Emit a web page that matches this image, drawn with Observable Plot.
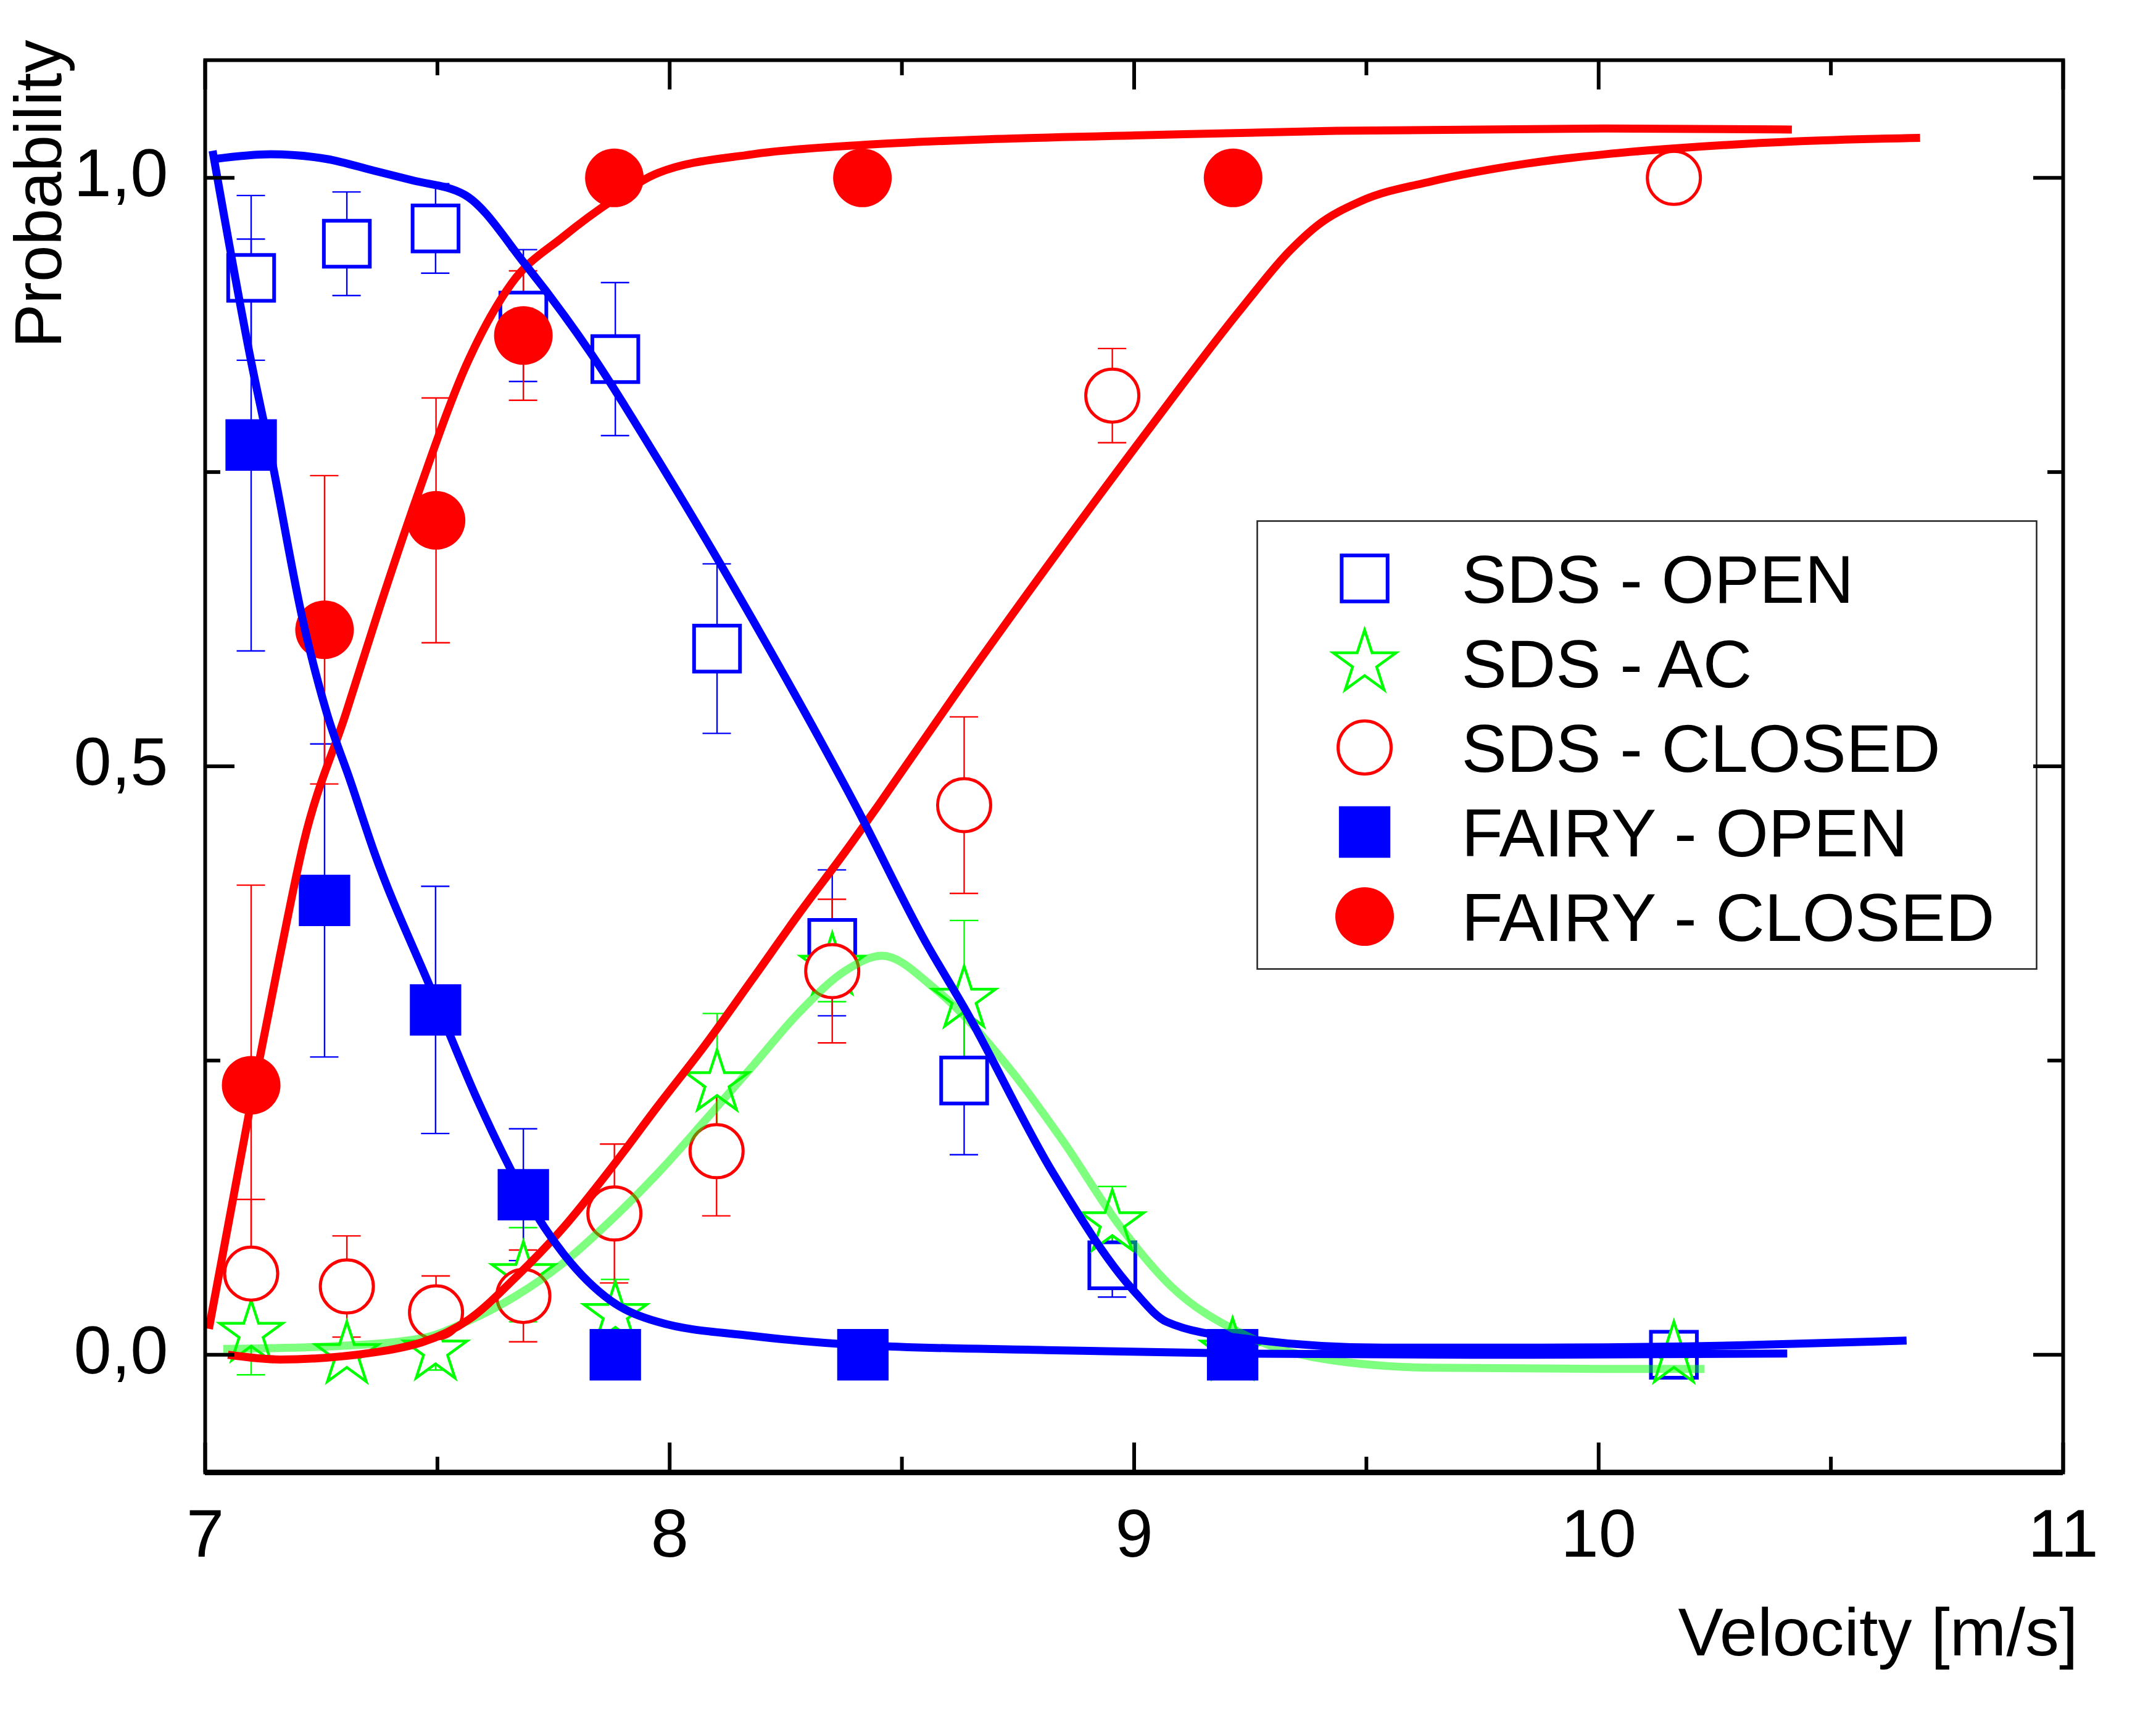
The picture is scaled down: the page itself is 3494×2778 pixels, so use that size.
<!DOCTYPE html>
<html>
<head>
<meta charset="utf-8">
<script src="https://cdn.jsdelivr.net/npm/d3@7"></script>
<script src="https://cdn.jsdelivr.net/npm/@observablehq/plot@0.6"></script>
<style>
  html, body { margin: 0; padding: 0; background: #fff; overflow: hidden; }
  svg { display: block; }
</style>
</head>
<body>
<div id="chart"></div>
<script>
// ---------- tick values and labels ----------
const xTicksMajor = [7, 8, 9, 10, 11];
const xTickLabels = ["7", "8", "9", "10", "11"];
const xTicksMinor = [7.5, 8.5, 9.5, 10.5];
const yTicksMajor = [0, 0.5, 1];
const yTickLabels = ["0,0", "0,5", "1,0"];
const yTicksMinor = [0.25, 0.75];

// ---------- measured points: [velocity, probability, error] ----------
const sdsOpen = [
  [7.099, 0.915, 0.070], [7.305, 0.944, 0.044], [7.496, 0.957, 0.038],
  [7.685, 0.883, 0.056], [7.883, 0.846, 0.065], [8.102, 0.600, 0.072],
  [8.350, 0.350, 0.062], [8.634, 0.233, 0.063], [8.953, 0.076, 0.027],
  [10.162, 0.000, 0]
];
const sdsAc = [
  [7.099, 0.018, 0.035], [7.305, 0.000, 0], [7.496, 0.003, 0.016],
  [7.685, 0.068, 0.040], [7.883, 0.034, 0.030], [8.102, 0.231, 0.059],
  [8.350, 0.330, 0.030], [8.634, 0.302, 0.067], [8.953, 0.112, 0.031],
  [9.212, 0.003, 0], [10.162, 0.000, 0]
];
const sdsClosed = [
  [7.099, 0.069, 0.063], [7.305, 0.058, 0.043], [7.497, 0.036, 0.031],
  [7.685, 0.050, 0.039], [7.881, 0.120, 0.059], [8.101, 0.173, 0.055],
  [8.350, 0.326, 0.061], [8.634, 0.467, 0.075], [8.953, 0.815, 0.040],
  [10.162, 1.000, 0]
];
const fairyOpen = [
  [7.099, 0.773, 0.175], [7.257, 0.386, 0.133], [7.496, 0.293, 0.105],
  [7.685, 0.136, 0.056], [7.883, 0.000, 0], [8.416, 0.000, 0],
  [9.212, 0.000, 0]
];
const fairyClosed = [
  [7.099, 0.229, 0.170], [7.257, 0.616, 0.131], [7.497, 0.709, 0.104],
  [7.685, 0.866, 0.055], [7.881, 1.000, 0], [8.415, 1.000, 0],
  [9.213, 1.000, 0]
];

// ---------- fitted curves: [velocity, probability] ----------
const fitSdsOpen = [
  [7.020, 1.016], [7.141, 1.020], [7.262, 1.016], [7.364, 1.006], [7.445, 0.998],
  [7.557, 0.986], [7.690, 0.926], [7.832, 0.850], [7.974, 0.761], [8.178, 0.625],
  [8.401, 0.466], [8.552, 0.350], [8.634, 0.295], [8.826, 0.154], [9.000, 0.054],
  [9.070, 0.028], [9.232, 0.014], [9.537, 0.006], [9.814, 0.006], [10.300, 0.008],
  [10.663, 0.012]
];
const fitFairyOpen = [
  [7.016, 1.023], [7.100, 0.842], [7.141, 0.765], [7.212, 0.621], [7.262, 0.545],
  [7.313, 0.487], [7.364, 0.427], [7.486, 0.311], [7.588, 0.215], [7.690, 0.134],
  [7.771, 0.086], [7.873, 0.046], [7.974, 0.028], [8.178, 0.016], [8.418, 0.008],
  [8.800, 0.004], [9.221, 0.001], [9.800, 0.000], [10.406, 0.001]
];
const fitFairyClosed = [
  [7.008, 0.022], [7.099, 0.215], [7.161, 0.339], [7.212, 0.435], [7.303, 0.545],
  [7.374, 0.633], [7.456, 0.729], [7.568, 0.846], [7.659, 0.910], [7.771, 0.950],
  [7.881, 0.982], [7.974, 1.004], [8.178, 1.020], [8.419, 1.028], [8.700, 1.033],
  [9.000, 1.036], [9.435, 1.040], [10.013, 1.042], [10.416, 1.041]
];
const fitSdsClosed = [
  [7.049, 0.000], [7.161, -0.004], [7.364, 0.002], [7.568, 0.030], [7.669, 0.066],
  [7.771, 0.108], [7.873, 0.158], [7.974, 0.211], [8.076, 0.263], [8.178, 0.319],
  [8.279, 0.375], [8.381, 0.429], [8.453, 0.469], [8.622, 0.565], [8.826, 0.677],
  [9.029, 0.785], [9.233, 0.890], [9.335, 0.938], [9.396, 0.960], [9.487, 0.980],
  [9.640, 0.997], [9.843, 1.012], [10.013, 1.020], [10.164, 1.025], [10.428, 1.031],
  [10.692, 1.034]
];
const fitSdsAc = [
  [7.039, 0.005], [7.262, 0.007], [7.466, 0.014], [7.568, 0.029], [7.669, 0.050],
  [7.771, 0.078], [7.873, 0.114], [7.974, 0.154], [8.076, 0.199], [8.178, 0.245],
  [8.279, 0.291], [8.381, 0.327], [8.457, 0.339], [8.571, 0.311], [8.724, 0.247],
  [8.846, 0.182], [8.968, 0.110], [9.080, 0.058], [9.232, 0.018], [9.385, -0.002],
  [9.639, -0.011], [10.012, -0.012], [10.228, -0.012]
];

const legendLabels = ["SDS - OPEN", "SDS - AC", "SDS - CLOSED", "FAIRY - OPEN", "FAIRY - CLOSED"];
const xLabel = "Velocity [m/s]";
const yLabel = "Probability";

// ---------- layout ----------
const W = 3494, H = 2778;
const mL = 332, mR = 151, mT = 97, mB = 392;
const xDom = [7, 11], yDom = [-0.1, 1.1];
const kx = (W - mL - mR) / (xDom[1] - xDom[0]);
const ky = (H - mT - mB) / (yDom[1] - yDom[0]);
const capHalf = 23 / kx;
const FONT = 110;

const BLUE = "#0000ff", RED = "#ff0000", GREEN = "#00ff00";

const pts = arr => arr.map(([x, y, e]) => ({x, y, e}));

function errorBars(arr, color) {
  const d = pts(arr).filter(p => p.e > 0);
  const o = {stroke: color, strokeWidth: 2.4};
  return [
    Plot.ruleX(d, {x: "x", y1: p => p.y - p.e, y2: p => p.y + p.e, ...o}),
    Plot.ruleY(d, {y: p => p.y + p.e, x1: p => p.x - capHalf, x2: p => p.x + capHalf, ...o}),
    Plot.ruleY(d, {y: p => p.y - p.e, x1: p => p.x - capHalf, x2: p => p.x + capHalf, ...o})
  ];
}

const styles = [
  {symbol: "square", r: 42, stroke: BLUE, fill: "white", strokeWidth: 6},
  {symbol: "star", r: 32, stroke: GREEN, fill: "white", strokeWidth: 4.5},
  {symbol: "circle", r: 43, stroke: RED, fill: "white", strokeWidth: 5},
  {symbol: "square", r: 47, stroke: "none", fill: BLUE, strokeWidth: 0},
  {symbol: "circle", r: 47.5, stroke: "none", fill: RED, strokeWidth: 0}
];
const seriesData = [sdsOpen, sdsAc, sdsClosed, fairyOpen, fairyClosed];

function tickRules() {
  const m = [];
  const o = {stroke: "black", strokeWidth: 6};
  for (const [ticks, len] of [[xTicksMajor, 48], [xTicksMinor, 25]]) {
    m.push(Plot.ruleX(ticks, {x: d => d, y1: yDom[0], y2: yDom[0] + len / ky, ...o}));
    m.push(Plot.ruleX(ticks, {x: d => d, y1: yDom[1], y2: yDom[1] - len / ky, ...o}));
  }
  for (const [ticks, len] of [[yTicksMajor, 48], [yTicksMinor, 25]]) {
    m.push(Plot.ruleY(ticks, {y: d => d, x1: xDom[0], x2: xDom[0] + len / kx, ...o}));
    m.push(Plot.ruleY(ticks, {y: d => d, x1: xDom[1], x2: xDom[1] - len / kx, ...o}));
  }
  return m;
}

const lineOpts = {x: d => d[0], y: d => d[1], strokeWidth: 13, curve: "monotone-x", strokeLinecap: "butt", strokeLinejoin: "round"};

const legendMarks = [];
const legRow0 = 937 - mT, legStep = 137;
legendLabels.forEach((lab, i) => {
  const s = styles[i];
  legendMarks.push(Plot.dot([lab], {frameAnchor: "top-left", dx: 2211 - mL, dy: legRow0 + legStep * i,
    symbol: s.symbol, r: s.r, stroke: s.stroke, fill: s.fill, strokeWidth: s.strokeWidth}));
  legendMarks.push(Plot.text([lab], {text: d => d, frameAnchor: "top-left", dx: 2368 - mL, dy: legRow0 + legStep * i + 4,
    textAnchor: "start", lineAnchor: "middle", fontSize: FONT, fill: "black"}));
});

const chart = Plot.plot({
  width: W, height: H,
  marginLeft: mL, marginRight: mR, marginTop: mT, marginBottom: mB,
  style: {fontFamily: "'Liberation Sans', Arial, Helvetica, sans-serif", background: "white", color: "black"},
  x: {domain: xDom},
  y: {domain: yDom},
  marks: [
    ...errorBars(sdsOpen, BLUE),
    ...errorBars(sdsAc, GREEN),
    ...errorBars(sdsClosed, RED),
    ...errorBars(fairyOpen, BLUE),
    ...errorBars(fairyClosed, RED),
    ...seriesData.map((arr, i) => Plot.dot(pts(arr), {x: "x", y: "y",
      symbol: styles[i].symbol, r: styles[i].r, stroke: styles[i].stroke,
      fill: styles[i].fill, strokeWidth: styles[i].strokeWidth})),
    Plot.line(fitSdsAc, {...lineOpts, stroke: GREEN, strokeOpacity: 0.5}),
    Plot.line(fitSdsClosed, {...lineOpts, stroke: RED}),
    Plot.line(fitFairyClosed, {...lineOpts, stroke: RED}),
    Plot.line(fitSdsOpen, {...lineOpts, stroke: BLUE}),
    Plot.line(fitFairyOpen, {...lineOpts, stroke: BLUE}),
    Plot.frame({insetLeft: 2037 - mL, insetRight: (W - mR) - 3300, insetTop: 844 - mT, insetBottom: (H - mB) - 1570,
      stroke: "#222", strokeWidth: 2.5, fill: "none"}),
    ...legendMarks,
    ...tickRules(),
    Plot.frame({stroke: "black", strokeWidth: 6}),
    Plot.ruleY([yDom[0]], {stroke: "black", strokeWidth: 9}),
    Plot.axisX(xTicksMajor, {anchor: "bottom", tickSize: 0, tickPadding: 58, fontSize: FONT,
      tickFormat: d => xTickLabels[xTicksMajor.indexOf(d)], label: null}),
    Plot.axisY(yTicksMajor, {anchor: "left", tickSize: 0, tickPadding: 60, fontSize: FONT,
      tickFormat: d => yTickLabels[yTicksMajor.indexOf(d)], label: null, dy: -5}),
    Plot.text([xLabel], {text: d => d, frameAnchor: "bottom-right", textAnchor: "end", lineAnchor: "bottom",
      dx: 3367 - (W - mR), dy: 2682 - (H - mB), fontSize: FONT, fill: "black"}),
    Plot.text([yLabel], {text: d => d, frameAnchor: "top-left", rotate: -90, textAnchor: "end", lineAnchor: "bottom",
      dx: 98 - mL, dy: 64 - mT, fontSize: 107, fill: "black"})
  ]
});
document.getElementById("chart").appendChild(chart);
</script>
</body>
</html>
